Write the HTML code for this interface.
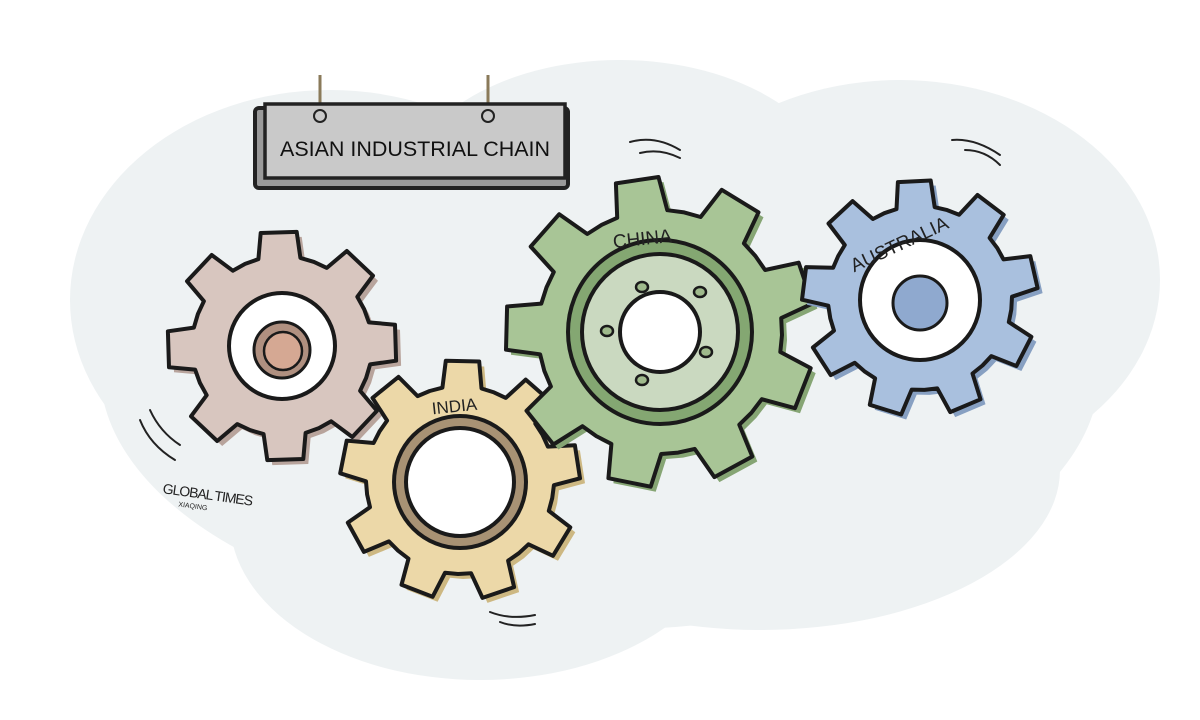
<!DOCTYPE html>
<html><head><meta charset="utf-8"><style>
html,body{margin:0;padding:0;background:#fff;width:1200px;height:720px;overflow:hidden}
svg{display:block}
text{font-family:"Liberation Sans",sans-serif}
</style></head><body>
<svg id="s" width="1200" height="720" viewBox="0 0 1200 720" xmlns="http://www.w3.org/2000/svg">
<g fill="#eef2f3">
<ellipse cx="600" cy="370" rx="500" ry="260"/>
<ellipse cx="330" cy="300" rx="260" ry="210"/>
<ellipse cx="900" cy="280" rx="260" ry="200"/>
<ellipse cx="480" cy="520" rx="250" ry="160"/>
<ellipse cx="760" cy="470" rx="300" ry="160"/>
<ellipse cx="620" cy="200" rx="220" ry="140"/>
</g>
<!-- sign -->
<line x1="320" y1="75" x2="320" y2="113" stroke="#8a7a5a" stroke-width="3"/>
<line x1="488" y1="75" x2="488" y2="113" stroke="#8a7a5a" stroke-width="3"/>
<rect x="255" y="108" width="313" height="80" fill="#9a9a9a" stroke="#222" stroke-width="4" rx="4"/>
<rect x="265" y="104" width="300" height="74" fill="#c9c9c9" stroke="#222" stroke-width="3.5"/>
<circle cx="320" cy="116" r="6" fill="none" stroke="#222" stroke-width="2"/>
<circle cx="488" cy="116" r="6" fill="none" stroke="#222" stroke-width="2"/>
<text x="415" y="156" font-size="21" text-anchor="middle" fill="#111" textLength="270" lengthAdjust="spacingAndGlyphs">ASIAN INDUSTRIAL CHAIN</text>
<!-- motion lines -->
<g stroke="#222" stroke-width="2" fill="none" stroke-linecap="round">
<path d="M630 142 Q655 135 680 150"/><path d="M640 153 Q660 148 680 158"/>
<path d="M952 140 Q975 138 1000 155"/><path d="M965 150 Q985 150 1000 165"/>
<path d="M140 420 Q150 445 175 460"/><path d="M150 410 Q160 432 180 445"/>
<path d="M490 612 Q510 620 535 615"/><path d="M500 622 Q515 628 535 624"/>
</g>
<g id="gears"></g>
<text x="162" y="497" font-size="14" fill="#222" transform="rotate(8 190 497)" letter-spacing="-1">GLOBAL TIMES</text>
<text x="178" y="508" font-size="7" fill="#222" transform="rotate(8 190 508)">XIAQING</text>
</svg>
<script>
function gear(cx,cy,n,R,r,rot){
  var d="",step=2*Math.PI/n;
  for(var i=0;i<n;i++){
    var a=rot+i*step;
    var pts=[[a-step*0.5,r],[a-step*0.3,r],[a-step*0.2,R],[a+step*0.2,R],[a+step*0.3,r]];
    pts.forEach(function(p,j){
      var x=cx+p[1]*Math.cos(p[0]),y=cy+p[1]*Math.sin(p[0]);
      d+=(i==0&&j==0?"M":"L")+x.toFixed(1)+" "+y.toFixed(1)+" ";
    });
  }
  return d+"Z";
}
var g=document.getElementById("gears"),h="";
function add(cx,cy,n,R,r,rot,fill,shade){
  h+='<path d="'+gear(cx+5,cy+5,n,R,r,rot)+'" fill="'+shade+'"/>';
  h+='<path d="'+gear(cx,cy,n,R,r,rot)+'" fill="'+fill+'" stroke="#1a1a1a" stroke-width="4" stroke-linejoin="round"/>';
}
add(282,346,8,115,90,-1.6,"#d8c6bf","#b8a49c");
h+='<circle cx="282" cy="346" r="53" fill="#fff" stroke="#1a1a1a" stroke-width="4"/>';
h+='<circle cx="282" cy="350" r="28" fill="#b09080" stroke="#1a1a1a" stroke-width="3"/>';
h+='<circle cx="283" cy="351" r="19" fill="#d5a893" stroke="#1a1a1a" stroke-width="2.5"/>';
add(460,480,9,120,94,-1.55,"#ecd8a8","#cdb882");
h+='<circle cx="460" cy="482" r="66" fill="#a89274" stroke="#1a1a1a" stroke-width="4"/>';
h+='<circle cx="460" cy="482" r="54" fill="#fff" stroke="#1a1a1a" stroke-width="4"/>';
h+='<text x="455" y="412" font-size="17" text-anchor="middle" fill="#222" transform="rotate(-6 455 412)">INDIA</text>';
add(660,332,9,155,122,-1.72,"#a8c596","#86a574");
h+='<circle cx="660" cy="332" r="92" fill="#84a772" stroke="#1a1a1a" stroke-width="4"/>';
h+='<circle cx="660" cy="332" r="78" fill="#cad9c0" stroke="#1a1a1a" stroke-width="4"/>';
h+='<circle cx="660" cy="332" r="40" fill="#fff" stroke="#1a1a1a" stroke-width="4"/>';
[[642,287],[700,292],[607,331],[706,352],[642,380]].forEach(function(p){
 h+='<ellipse cx="'+p[0]+'" cy="'+p[1]+'" rx="6" ry="5" fill="#9fba8c" stroke="#1a1a1a" stroke-width="2.5"/>';
});
h+='<text x="643" y="245" font-size="19" text-anchor="middle" fill="#222" transform="rotate(-6 643 245)">CHINA</text>';
add(920,298,9,118,92,-1.62,"#a9c0de","#87a0c2");
h+='<circle cx="920" cy="300" r="60" fill="#fff" stroke="#1a1a1a" stroke-width="4"/>';
h+='<circle cx="920" cy="303" r="27" fill="#8fa9cf" stroke="#1a1a1a" stroke-width="3"/>';
h+='<text x="902" y="250" font-size="19" text-anchor="middle" fill="#222" transform="rotate(-25 902 250)">AUSTRALIA</text>';
g.innerHTML=h;
</script>
</body></html>
